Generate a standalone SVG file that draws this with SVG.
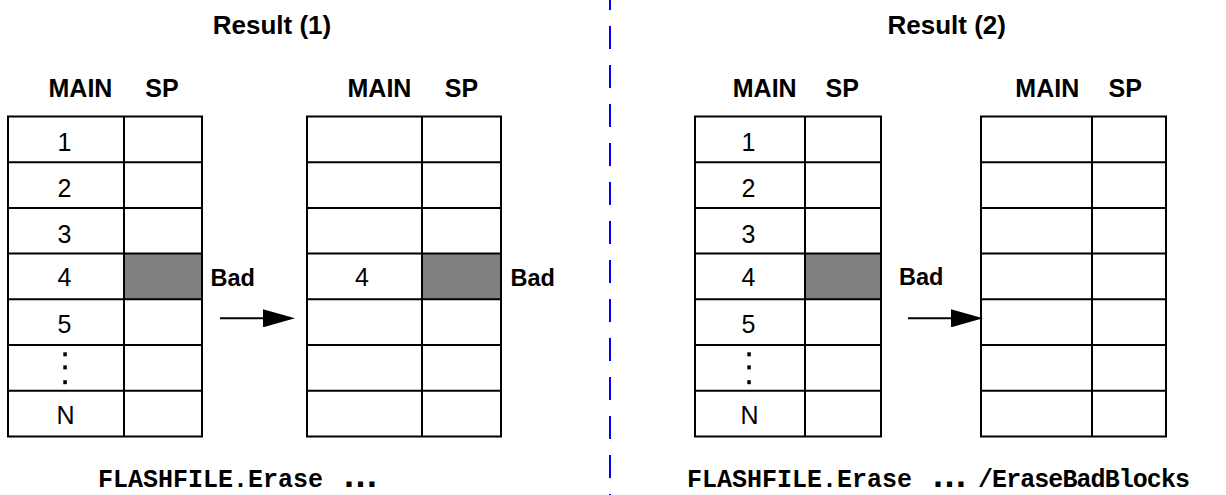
<svg xmlns="http://www.w3.org/2000/svg" width="1226" height="495" viewBox="0 0 1226 495">
<style>
.bg{fill:#fff}
.grid{fill:none;stroke:#000;stroke-width:2}
.bad{fill:#808080}
.t{font-family:"Liberation Sans",Arial,Helvetica,sans-serif;fill:#000}
.b{font-weight:bold;font-size:25px}
.bd{font-weight:bold;font-size:23.5px}
.ttl{font-weight:bold;font-size:26px}
.n{font-size:25px;text-anchor:middle}
.m{font-family:"Liberation Mono","Courier New",monospace;font-weight:bold;font-size:25px;fill:#000}
.el{font-family:"Liberation Sans",Arial,sans-serif;font-weight:bold;font-size:36px;text-anchor:middle}
.dot{fill:#000}
.conn{stroke:#000;stroke-width:2;fill:none}
.sep{stroke:#0000ff;stroke-width:2;stroke-dasharray:23 16;stroke-dashoffset:13;fill:none}
</style>
<defs>
<marker id="ah" viewBox="0 0 32 18" refX="1" refY="9" markerWidth="32" markerHeight="18" markerUnits="userSpaceOnUse" orient="auto">
<path d="M0,0 L32,9 L0,18 Z" fill="#000"/>
</marker>
</defs>
<rect class="bg" x="0" y="0" width="1226" height="495"/>

<g id="titles">
<text class="t ttl" x="272" y="33.5" text-anchor="middle">Result (1)</text>
<text class="t ttl" x="946.7" y="33.5" text-anchor="middle">Result (2)</text>
</g>

<g id="table1">
<text class="t b" x="80.5" y="97" text-anchor="middle">MAIN</text>
<text class="t b" x="162" y="97" text-anchor="middle">SP</text>
<rect class="bad" x="124" y="253.6" width="78" height="45.7"/>
<path class="grid" d="M8,116.5 H202 V436.5 H8 Z M124,116.5 V436.5 M8,162.2 H202 M8,207.9 H202 M8,253.6 H202 M8,299.3 H202 M8,345 H202 M8,390.7 H202"/>
<text class="t n" x="64.5" y="151">1</text>
<text class="t n" x="64.5" y="197">2</text>
<text class="t n" x="64.5" y="242.5">3</text>
<text class="t n" x="64.5" y="286">4</text>
<text class="t n" x="64.5" y="333">5</text>
<rect class="dot" x="63.3" y="352.3" width="3.5" height="4"/>
<rect class="dot" x="63.3" y="365.4" width="3.5" height="4"/>
<rect class="dot" x="63.3" y="380.2" width="3.5" height="4"/>
<text class="t n" x="65.5" y="424">N</text>
<text class="t bd" x="210.5" y="286">Bad</text>
</g>

<g id="table2">
<text class="t b" x="379.5" y="97" text-anchor="middle">MAIN</text>
<text class="t b" x="461.5" y="97" text-anchor="middle">SP</text>
<rect class="bad" x="422" y="253.6" width="79" height="45.7"/>
<path class="grid" d="M307,116.5 H501 V436.5 H307 Z M422,116.5 V436.5 M307,162.2 H501 M307,207.9 H501 M307,253.6 H501 M307,299.3 H501 M307,345 H501 M307,390.7 H501"/>
<text class="t n" x="362" y="286">4</text>
<text class="t bd" x="510.5" y="286">Bad</text>
</g>

<g id="table3">
<text class="t b" x="764.7" y="97" text-anchor="middle">MAIN</text>
<text class="t b" x="842.3" y="97" text-anchor="middle">SP</text>
<rect class="bad" x="805" y="253.6" width="76" height="45.7"/>
<path class="grid" d="M695,116.5 H881 V436.5 H695 Z M805,116.5 V436.5 M695,162.2 H881 M695,207.9 H881 M695,253.6 H881 M695,299.3 H881 M695,345 H881 M695,390.7 H881"/>
<text class="t n" x="748.5" y="151">1</text>
<text class="t n" x="748.5" y="197">2</text>
<text class="t n" x="748.5" y="242.5">3</text>
<text class="t n" x="748.5" y="286">4</text>
<text class="t n" x="748.5" y="333">5</text>
<rect class="dot" x="747.3" y="352.3" width="3.5" height="4"/>
<rect class="dot" x="747.3" y="365.4" width="3.5" height="4"/>
<rect class="dot" x="747.3" y="380.2" width="3.5" height="4"/>
<text class="t n" x="749.5" y="424">N</text>
<text class="t bd" x="899" y="285">Bad</text>
</g>

<g id="table4">
<text class="t b" x="1047.3" y="97" text-anchor="middle">MAIN</text>
<text class="t b" x="1125.3" y="97" text-anchor="middle">SP</text>
<path class="grid" d="M981,116.5 H1166 V436.5 H981 Z M1092,116.5 V436.5 M981,162.2 H1166 M981,207.9 H1166 M981,253.6 H1166 M981,299.3 H1166 M981,345 H1166 M981,390.7 H1166"/>
</g>

<g id="connectors">
<line class="conn" x1="220" y1="318.3" x2="264" y2="318.3" marker-end="url(#ah)"/>
<line class="conn" x1="908" y1="318.3" x2="952" y2="318.3" marker-end="url(#ah)"/>
</g>

<g id="separator">
<line class="sep" x1="610" y1="0" x2="610" y2="495"/>
</g>

<g id="captions">
<text class="m" y="486.5"><tspan x="98">FLASHFILE.Erase</tspan><tspan class="el" x="360.5">…</tspan></text>
<text class="m" y="486.5"><tspan x="687">FLASHFILE.Erase</tspan><tspan class="el" x="949.5">…</tspan></text>
<text class="m" x="978" y="486.5" textLength="212" lengthAdjust="spacing">/EraseBadBlocks</text>
</g>
</svg>
